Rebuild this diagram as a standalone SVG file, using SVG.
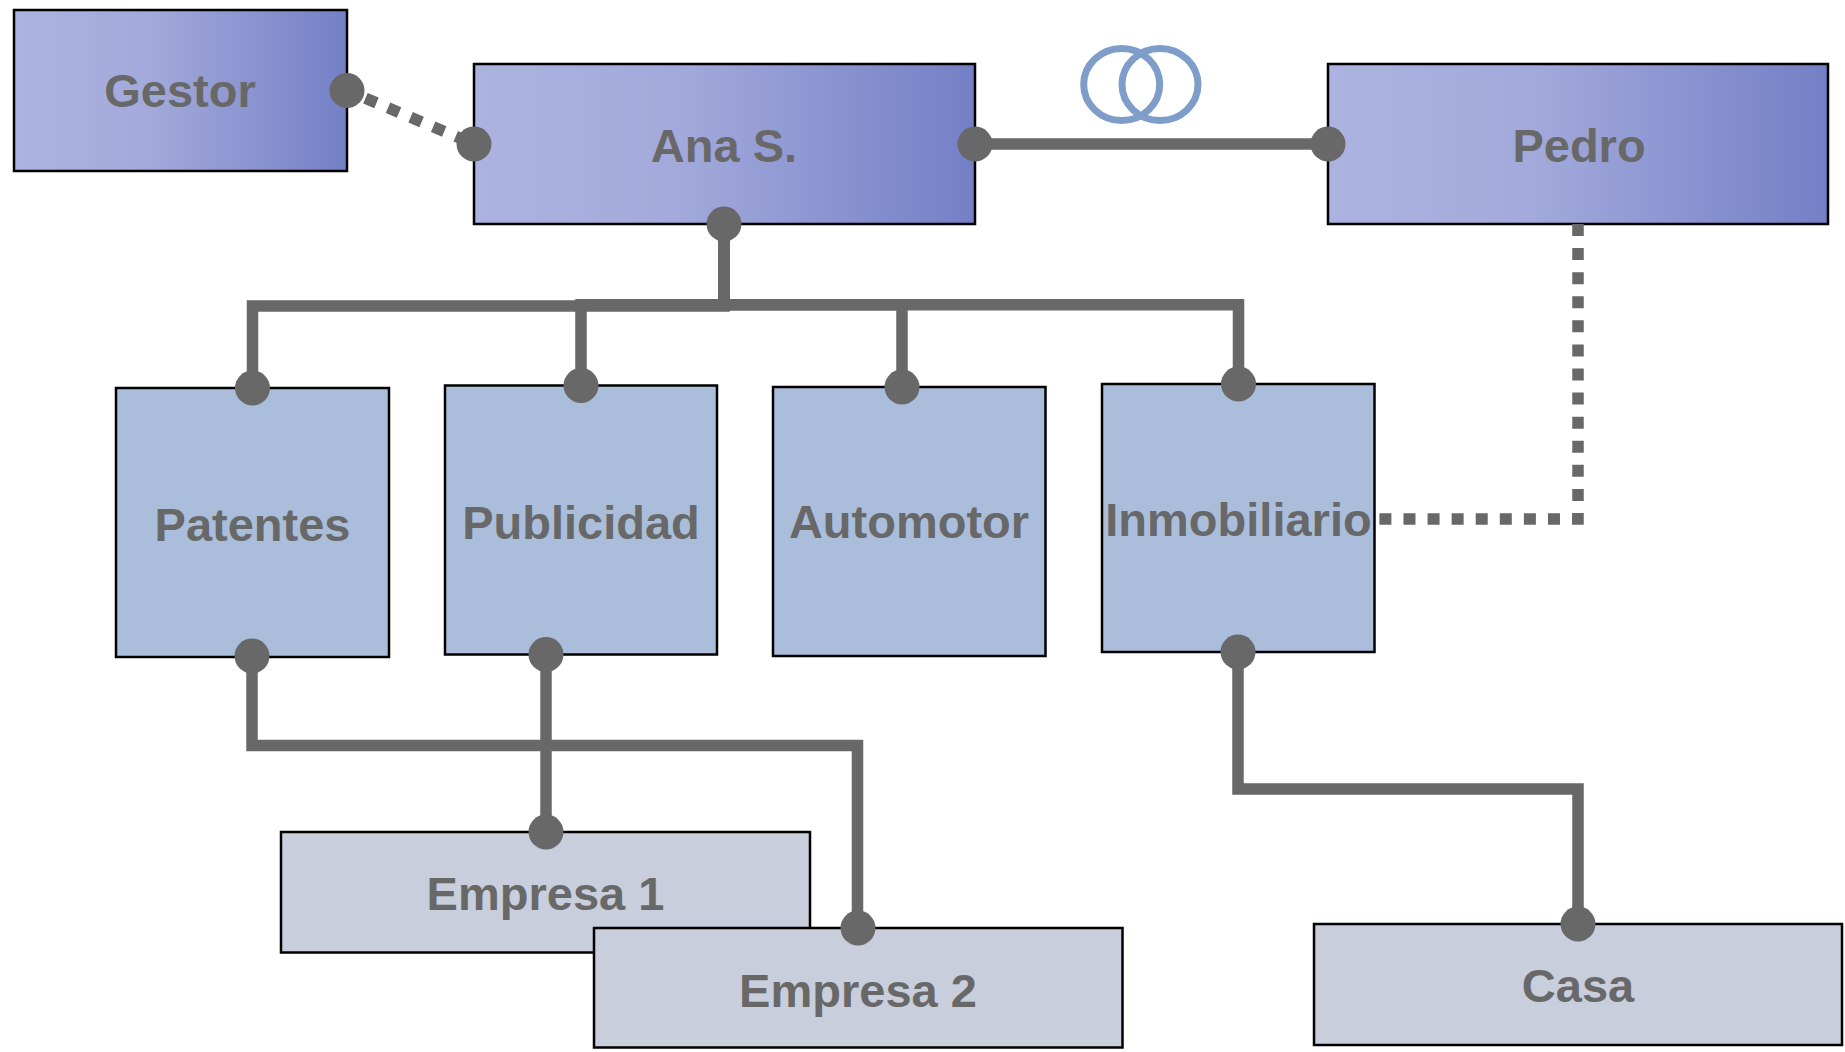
<svg xmlns="http://www.w3.org/2000/svg" width="1845" height="1052" viewBox="0 0 1845 1052">
  <defs>
    <linearGradient id="gradTop" x1="0" y1="0" x2="1" y2="0">
      <stop offset="0" stop-color="#ACB3E0"/>
      <stop offset="0.4" stop-color="#A3AADB"/>
      <stop offset="1" stop-color="#7480C6"/>
    </linearGradient>
  </defs>
  <style>
    .box { stroke: #000000; stroke-width: 2.5; }
    .top { fill: url(#gradTop); }
    .mid { fill: #AABEDC; }
    .low { fill: #C8CEDC; }
    .lbl { font-family: "Liberation Sans", Arial, sans-serif; font-weight: bold; font-size: 47px; fill: #686868; text-anchor: middle; }
    .conn { fill: none; stroke: #686868; stroke-width: 11.5; stroke-linejoin: miter; stroke-linecap: butt; }
    .dot { fill: #686868; }
    .dash1 { stroke-dasharray: 12 12.5; stroke-dashoffset: 4.5; }
    .dash2 { stroke-dasharray: 12 12.08; }
    .ring { fill: none; stroke: #7F9DC9; stroke-width: 7; }
  </style>
  <rect width="1845" height="1052" fill="#FFFFFF"/>

  <g id="node-gestor">
    <rect class="box top" x="14" y="10" width="333" height="161"/>
    <text class="lbl" x="180" y="107">Gestor</text>
  </g>
  <g id="node-ana">
    <rect class="box top" x="474" y="64" width="501" height="160"/>
    <text class="lbl" x="724" y="162">Ana S.</text>
  </g>
  <g id="node-pedro">
    <rect class="box top" x="1328" y="64" width="500" height="160"/>
    <text class="lbl" x="1579" y="162">Pedro</text>
  </g>
  <g id="node-patentes">
    <rect class="box mid" x="116" y="388" width="273" height="269"/>
    <text class="lbl" x="252.5" y="541">Patentes</text>
  </g>
  <g id="node-publicidad">
    <rect class="box mid" x="445" y="385.5" width="272" height="269"/>
    <text class="lbl" x="581" y="539">Publicidad</text>
  </g>
  <g id="node-automotor">
    <rect class="box mid" x="773" y="387" width="272.5" height="269"/>
    <text class="lbl" x="909" y="538">Automotor</text>
  </g>
  <g id="node-inmobiliario">
    <rect class="box mid" x="1102" y="384" width="272.5" height="268"/>
    <text class="lbl" x="1238.5" y="536">Inmobiliario</text>
  </g>
  <g id="node-empresa1">
    <rect class="box low" x="281" y="832" width="529" height="120.5"/>
    <text class="lbl" x="545.5" y="910">Empresa 1</text>
  </g>
  <g id="node-empresa2">
    <rect class="box low" x="594" y="928" width="528.5" height="119.5"/>
    <text class="lbl" x="858" y="1007">Empresa 2</text>
  </g>
  <g id="node-casa">
    <rect class="box low" x="1314" y="924" width="528" height="121"/>
    <text class="lbl" x="1578" y="1002">Casa</text>
  </g>

  <g id="connectors">
    <path class="conn dash1" d="M347,90.5 L474,144"/>
    <path class="conn" d="M975,144 H1328"/>
    <ellipse class="ring" cx="1121.7" cy="84.5" rx="38" ry="36"/>
    <ellipse class="ring" cx="1160" cy="84.5" rx="38" ry="36"/>
    <path class="conn dash2" d="M1578,224 V519 H1374"/>
    <path class="conn" d="M724,224 V306 H252.5 V388"/>
    <path class="conn" d="M724,224 V304.7 H581 V385.5"/>
    <path class="conn" d="M724,224 V304.7 H902 V387"/>
    <path class="conn" d="M724,224 V304.7 H1238.5 V384"/>
    <path class="conn" d="M252,656 V745.5 H857.5 V928"/>
    <path class="conn" d="M546,654.5 V832"/>
    <path class="conn" d="M1238,652 V789 H1578 V924"/>
    <circle class="dot" cx="347" cy="90.5" r="17.5"/>
    <circle class="dot" cx="474" cy="144" r="17.5"/>
    <circle class="dot" cx="975" cy="144" r="17.5"/>
    <circle class="dot" cx="1328" cy="144" r="17.5"/>
    <circle class="dot" cx="724" cy="224" r="17.5"/>
    <circle class="dot" cx="252.5" cy="388" r="17.5"/>
    <circle class="dot" cx="581" cy="385.5" r="17.5"/>
    <circle class="dot" cx="902" cy="387" r="17.5"/>
    <circle class="dot" cx="1238.5" cy="384" r="17.5"/>
    <circle class="dot" cx="252" cy="656" r="17.5"/>
    <circle class="dot" cx="546" cy="654.5" r="17.5"/>
    <circle class="dot" cx="1238" cy="652" r="17.5"/>
    <circle class="dot" cx="546" cy="832" r="17.5"/>
    <circle class="dot" cx="858" cy="928" r="17.5"/>
    <circle class="dot" cx="1578" cy="924" r="17.5"/>
  </g>
</svg>
